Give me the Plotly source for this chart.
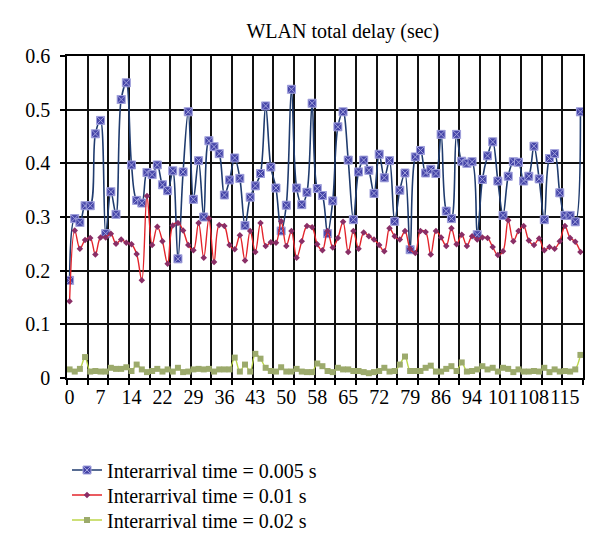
import plotly.graph_objects as go

# time (s) categories: 100 samples, 1.2 s apart
time_s = [round(i * 1.2, 1) for i in range(100)]

delay_0005 = [0.182, 0.297, 0.290, 0.321, 0.321, 0.455, 0.480, 0.269, 0.347, 0.305,
              0.519, 0.550, 0.397, 0.331, 0.326, 0.383, 0.379, 0.397, 0.360, 0.349,
              0.386, 0.222, 0.384, 0.496, 0.333, 0.405, 0.300, 0.442, 0.431, 0.418,
              0.341, 0.369, 0.410, 0.372, 0.284, 0.337, 0.358, 0.381, 0.507, 0.393,
              0.354, 0.274, 0.322, 0.538, 0.354, 0.323, 0.346, 0.512, 0.353, 0.340,
              0.269, 0.330, 0.468, 0.496, 0.406, 0.295, 0.384, 0.406, 0.387, 0.344,
              0.417, 0.373, 0.405, 0.292, 0.350, 0.382, 0.239, 0.412, 0.424, 0.382,
              0.389, 0.381, 0.454, 0.311, 0.297, 0.454, 0.404, 0.400, 0.403, 0.267,
              0.370, 0.414, 0.440, 0.367, 0.303, 0.376, 0.403, 0.402, 0.367, 0.376,
              0.432, 0.371, 0.295, 0.409, 0.418, 0.345, 0.303, 0.303, 0.291, 0.496]

delay_001 = [0.143, 0.275, 0.241, 0.257, 0.261, 0.230, 0.262, 0.262, 0.269, 0.250,
             0.258, 0.252, 0.249, 0.231, 0.182, 0.339, 0.248, 0.282, 0.255, 0.213,
             0.284, 0.289, 0.275, 0.248, 0.238, 0.289, 0.224, 0.297, 0.216, 0.285,
             0.283, 0.248, 0.240, 0.266, 0.219, 0.274, 0.235, 0.289, 0.246, 0.253,
             0.252, 0.292, 0.246, 0.274, 0.224, 0.255, 0.283, 0.281, 0.249, 0.238,
             0.274, 0.243, 0.261, 0.291, 0.235, 0.274, 0.241, 0.271, 0.264, 0.258,
             0.248, 0.236, 0.279, 0.264, 0.258, 0.274, 0.241, 0.233, 0.274, 0.272,
             0.230, 0.274, 0.262, 0.246, 0.279, 0.249, 0.267, 0.246, 0.264, 0.258,
             0.262, 0.261, 0.244, 0.229, 0.236, 0.294, 0.255, 0.274, 0.283, 0.256,
             0.248, 0.260, 0.238, 0.244, 0.241, 0.255, 0.283, 0.261, 0.254, 0.235]

delay_002 = [0.016, 0.012, 0.017, 0.039, 0.012, 0.013, 0.012, 0.012, 0.019, 0.017,
             0.017, 0.020, 0.013, 0.025, 0.016, 0.011, 0.013, 0.017, 0.012, 0.016,
             0.012, 0.019, 0.011, 0.012, 0.016, 0.017, 0.016, 0.017, 0.012, 0.016,
             0.016, 0.016, 0.038, 0.012, 0.025, 0.012, 0.045, 0.036, 0.019, 0.013,
             0.012, 0.020, 0.012, 0.012, 0.017, 0.012, 0.011, 0.011, 0.027, 0.022,
             0.013, 0.011, 0.019, 0.016, 0.016, 0.013, 0.013, 0.011, 0.009, 0.011,
             0.013, 0.019, 0.012, 0.013, 0.025, 0.040, 0.013, 0.013, 0.013, 0.019,
             0.023, 0.012, 0.012, 0.017, 0.022, 0.013, 0.029, 0.012, 0.013, 0.016,
             0.022, 0.016, 0.019, 0.012, 0.019, 0.017, 0.011, 0.016, 0.012, 0.012,
             0.013, 0.012, 0.019, 0.011, 0.016, 0.012, 0.013, 0.012, 0.016, 0.043]

series_names = ["Interarrival time = 0.005 s",
                "Interarrival time = 0.01 s",
                "Interarrival time = 0.02 s"]

y_ticks = [0, 0.1, 0.2, 0.3, 0.4, 0.5, 0.6]
y_tick_text = ["0", "0.1", "0.2", "0.3", "0.4", "0.5", "0.6"]

label_vals = time_s[::6]
label_text = [str(int(round(v))) for v in label_vals]

FONT = "Liberation Serif"

fig = go.Figure()
fig.add_trace(go.Scatter(
    x=time_s, y=delay_0005, name=series_names[0], mode="lines+markers",
    legend="legend",
    line=dict(color="#1F3B6E", width=1.6, shape="spline", smoothing=1),
    marker=dict(symbol="square-x", size=8, color="#4646A8",
                line=dict(color="#A0A0DC", width=1)),
))
fig.add_trace(go.Scatter(
    x=time_s, y=delay_001, name=series_names[1], mode="lines+markers",
    legend="legend2",
    line=dict(color="#E3242B", width=1.4, shape="spline", smoothing=1),
    marker=dict(symbol="diamond", size=5, color="#8A2E66"),
))
fig.add_trace(go.Scatter(
    x=time_s, y=delay_002, name=series_names[2], mode="lines+markers",
    legend="legend3",
    line=dict(color="#BCD64A", width=1.4, shape="spline", smoothing=1),
    marker=dict(symbol="square", size=6, color="#9CAA6C"),
))

step = time_s[1] - time_s[0]
x_range = [time_s[0] - step / 2, time_s[-1] + step / 2]

H = 545
PT, PB = 48, 370  # plot area top/bottom in px


def leg(row_center_px):
    return dict(x=0.0, xanchor="left", yref="container",
                y=1 - row_center_px / H, yanchor="middle",
                font=dict(family=FONT, size=20, color="black"),
                bgcolor="rgba(0,0,0,0)")


fig.update_layout(
    width=600, height=H,
    margin=dict(l=59, r=25, t=PT, b=H - PB, autoexpand=False),
    paper_bgcolor="white", plot_bgcolor="white",
    font=dict(family=FONT, size=20, color="black"),
    title=dict(text="WLAN total delay (sec)", x=0.558, xanchor="center",
               y=1 - 23 / H, yanchor="middle",
               font=dict(family=FONT, size=20, color="black")),
    showlegend=True,
    legend=leg(462), legend2=leg(487), legend3=leg(512),
    xaxis=dict(range=x_range, tickmode="array", tickvals=label_vals,
               ticktext=label_text, showgrid=False, zeroline=False,
               showline=True, linecolor="black", linewidth=1.5, mirror=True,
               ticks="", tickangle=0, tickfont=dict(family=FONT, size=20),
               minor=dict(tickmode="linear", tick0=x_range[0], dtick=4 * step,
                          showgrid=True, gridcolor="#111111", gridwidth=1.5,
                          ticks="outside", ticklen=5, tickcolor="black",
                          tickwidth=1.5)),
    yaxis=dict(range=[0, 0.6], tickmode="array", tickvals=y_ticks,
               ticktext=y_tick_text, showgrid=True, gridcolor="#111111",
               gridwidth=1.5, zeroline=False, showline=True, linecolor="black",
               linewidth=1.5, mirror=True, ticks="outside", ticklen=5,
               tickwidth=1.5, tickcolor="black",
               tickfont=dict(family=FONT, size=20), ticklabelstandoff=6),
)

fig.write_html("out.html")
